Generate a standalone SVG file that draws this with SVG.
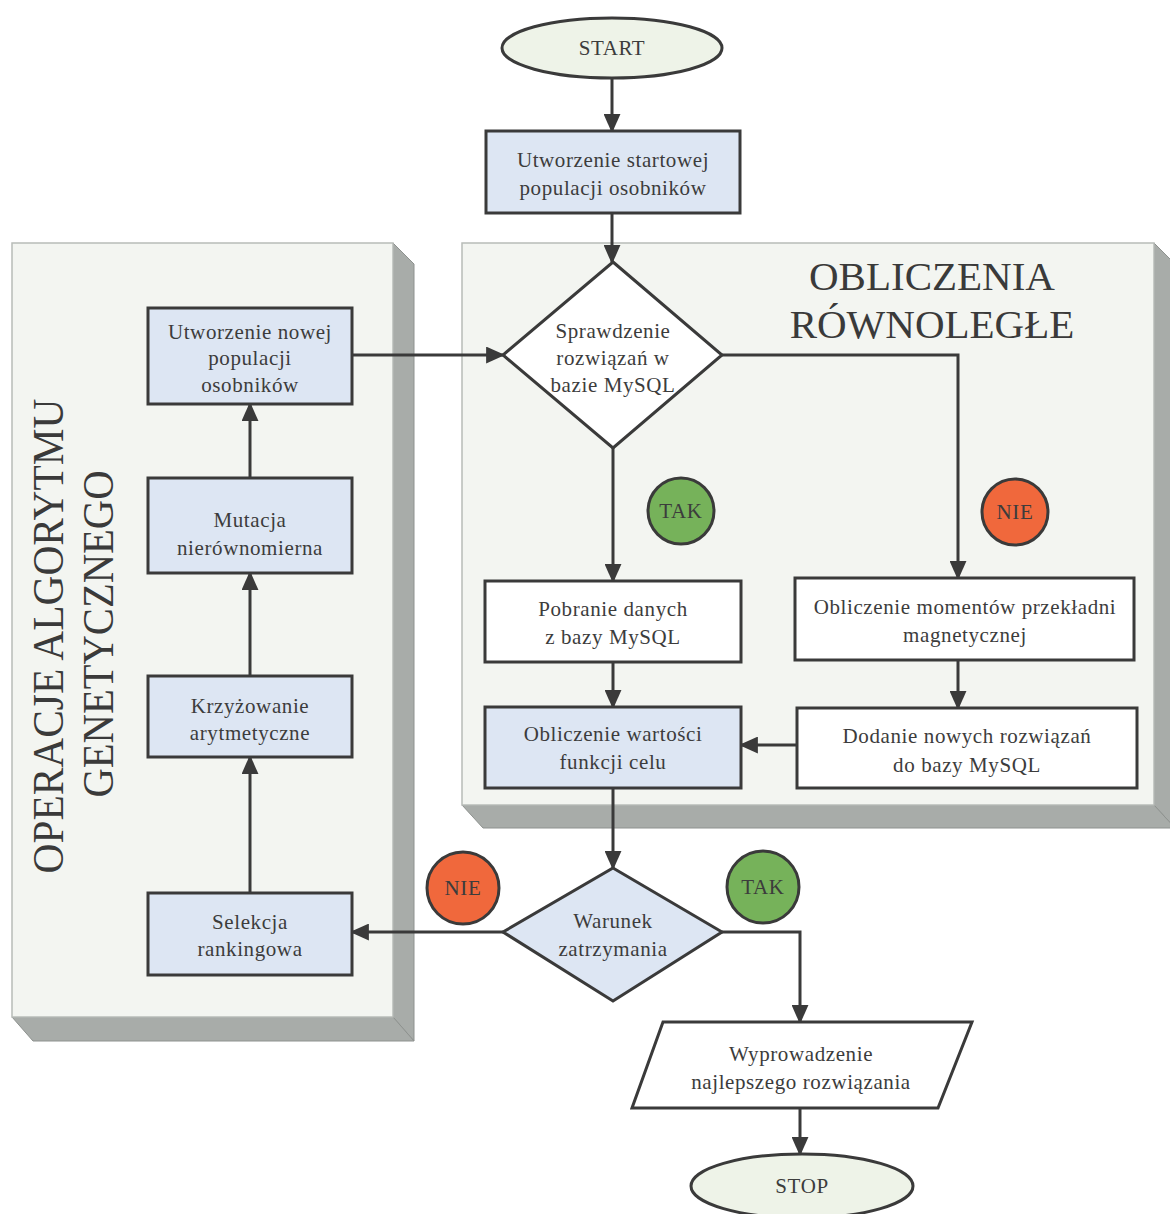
<svg xmlns="http://www.w3.org/2000/svg" width="1170" height="1214" viewBox="0 0 1170 1214">
<defs>
<marker id="arr" viewBox="0 0 18 16" refX="16" refY="8" markerWidth="19" markerHeight="17" markerUnits="userSpaceOnUse" orient="auto">
<path d="M0,0 L18,8 L0,16 z" fill="#3a3a3a"/>
</marker>
</defs>
<style>
.face{fill:#f3f5f1;stroke:#b8bcb8;stroke-width:1.5}
.side{fill:#a8aca9;stroke:#8e928f;stroke-width:1}
.box{fill:#ffffff;stroke:#3a3a3a;stroke-width:3}
.blue{fill:#dde6f3;stroke:#3a3a3a;stroke-width:3}
.term{fill:#eef3e8;stroke:#3a3a3a;stroke-width:3}
.t{font-family:"Liberation Serif","Times New Roman",serif;font-size:21px;fill:#3c3c3c;text-anchor:middle;letter-spacing:0.6px}
.big{font-family:"Liberation Serif","Times New Roman",serif;font-size:41px;fill:#3a3a3a;text-anchor:middle}
.vert{font-family:"Liberation Serif","Times New Roman",serif;font-size:44px;fill:#3a3a3a;text-anchor:middle}
.c{stroke:#3a3a3a;stroke-width:3}
.yes{fill:#76b25a}
.no{fill:#f0683c}
.conn{fill:none;stroke:#3a3a3a;stroke-width:3;marker-end:url(#arr)}
</style>

<g id="panel-ga">
<polygon class="side" points="393,243 414,264 414,1041 393,1017"/>
<polygon class="side" points="12,1017 393,1017 414,1041 33,1041"/>
<rect class="face" x="12" y="243" width="381" height="774"/>
<text class="vert" transform="translate(63,636) rotate(-90)" textLength="475" lengthAdjust="spacingAndGlyphs">OPERACJE ALGORYTMU</text>
<text class="vert" transform="translate(113,634) rotate(-90)" textLength="327" lengthAdjust="spacingAndGlyphs">GENETYCZNEGO</text>
</g>

<g id="panel-par">
<polygon class="side" points="1154,243 1175,264 1175,828 1154,805"/>
<polygon class="side" points="462,805 1154,805 1175,828 483,828"/>
<rect class="face" x="462" y="243" width="692" height="562"/>
<text class="big" x="932" y="290">OBLICZENIA</text>
<text class="big" x="932" y="338">RÓWNOLEGŁE</text>
</g>

<g id="connectors">
<path class="conn" d="M612,78 V131"/>
<path class="conn" d="M612,213 V262"/>
<path class="conn" d="M352,355 H503"/>
<path class="conn" d="M722,355 H958 V578"/>
<path class="conn" d="M613,448 V581"/>
<path class="conn" d="M613,662 V707"/>
<path class="conn" d="M958,660 V708"/>
<path class="conn" d="M797,745 H741"/>
<path class="conn" d="M613,788 V868"/>
<path class="conn" d="M503,932 H352"/>
<path class="conn" d="M722,932 H800 V1022"/>
<path class="conn" d="M800,1108 V1154"/>
<path class="conn" d="M250,893 V757"/>
<path class="conn" d="M250,676 V573"/>
<path class="conn" d="M250,478 V404"/>
</g>

<g id="start">
<ellipse class="term" cx="612" cy="48" rx="110" ry="30"/>
<text class="t" x="612" y="55">START</text>
</g>

<g id="init-pop">
<rect class="blue" x="486" y="131" width="254" height="82"/>
<text class="t" x="613" y="167">Utworzenie startowej</text>
<text class="t" x="613" y="195">populacji osobników</text>
</g>

<g id="check-db">
<polygon class="box" points="613,262 722,355 613,448 503,355"/>
<text class="t" x="613" y="338">Sprawdzenie</text>
<text class="t" x="613" y="365">rozwiązań w</text>
<text class="t" x="613" y="392">bazie MySQL</text>
</g>

<g id="tak1">
<circle class="yes c" cx="681" cy="511" r="33"/>
<text class="t" x="681" y="518">TAK</text>
</g>

<g id="nie1">
<circle class="no c" cx="1015" cy="512" r="33"/>
<text class="t" x="1015" y="519">NIE</text>
</g>

<g id="fetch">
<rect class="box" x="485" y="581" width="256" height="81"/>
<text class="t" x="613" y="616">Pobranie danych</text>
<text class="t" x="613" y="644">z bazy MySQL</text>
</g>

<g id="compute-moments">
<rect class="box" x="795" y="578" width="339" height="82"/>
<text class="t" x="965" y="614">Obliczenie momentów przekładni</text>
<text class="t" x="965" y="642">magnetycznej</text>
</g>

<g id="add-db">
<rect class="box" x="797" y="708" width="340" height="80"/>
<text class="t" x="967" y="743">Dodanie nowych rozwiązań</text>
<text class="t" x="967" y="772">do bazy MySQL</text>
</g>

<g id="fitness">
<rect class="blue" x="485" y="707" width="256" height="81"/>
<text class="t" x="613" y="741">Obliczenie wartości</text>
<text class="t" x="613" y="769">funkcji celu</text>
</g>

<g id="new-pop">
<rect class="blue" x="148" y="308" width="204" height="96"/>
<text class="t" x="250" y="339">Utworzenie nowej</text>
<text class="t" x="250" y="365">populacji</text>
<text class="t" x="250" y="392">osobników</text>
</g>

<g id="mutation">
<rect class="blue" x="148" y="478" width="204" height="95"/>
<text class="t" x="250" y="527">Mutacja</text>
<text class="t" x="250" y="555">nierównomierna</text>
</g>

<g id="crossover">
<rect class="blue" x="148" y="676" width="204" height="81"/>
<text class="t" x="250" y="713">Krzyżowanie</text>
<text class="t" x="250" y="740">arytmetyczne</text>
</g>

<g id="selection">
<rect class="blue" x="148" y="893" width="204" height="82"/>
<text class="t" x="250" y="929">Selekcja</text>
<text class="t" x="250" y="956">rankingowa</text>
</g>

<g id="stop-cond">
<polygon class="blue" points="613,868 722,932 613,1001 503,932"/>
<text class="t" x="613" y="928">Warunek</text>
<text class="t" x="613" y="956">zatrzymania</text>
</g>

<g id="nie2">
<circle class="no c" cx="463" cy="888" r="36"/>
<text class="t" x="463" y="895">NIE</text>
</g>

<g id="tak2">
<circle class="yes c" cx="763" cy="887" r="36"/>
<text class="t" x="763" y="894">TAK</text>
</g>

<g id="output">
<polygon class="box" points="663,1022 972,1022 938,1108 632,1108"/>
<text class="t" x="801" y="1061">Wyprowadzenie</text>
<text class="t" x="801" y="1089">najlepszego rozwiązania</text>
</g>

<g id="stop">
<ellipse class="term" cx="802" cy="1186" rx="111" ry="32"/>
<text class="t" x="802" y="1193">STOP</text>
</g>
</svg>
